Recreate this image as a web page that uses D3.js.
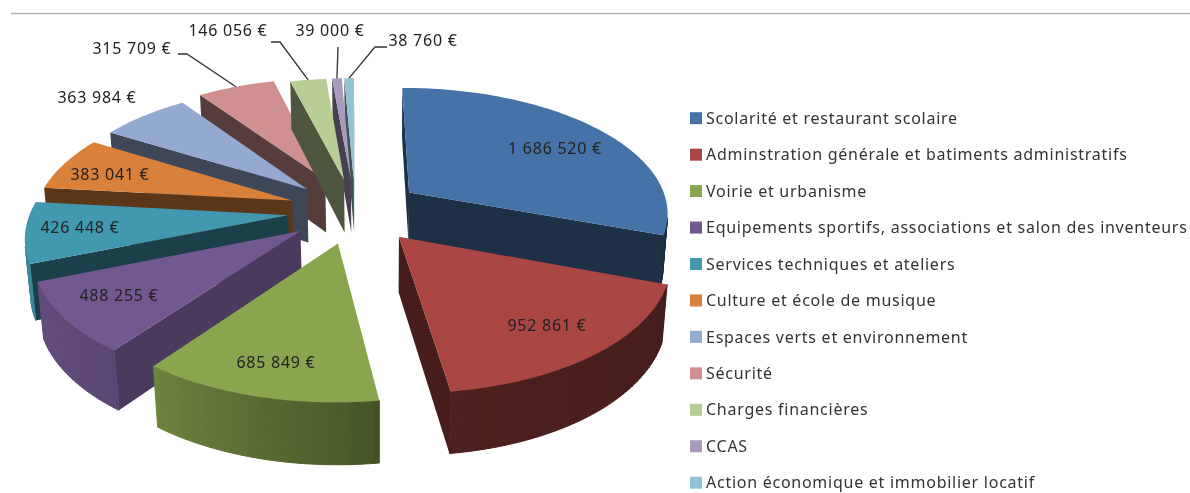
<!DOCTYPE html>
<meta charset="utf-8">
<style>
    html, body { margin: 0; background: #fff; }
    svg { display: block; filter: blur(0.45px); }
    text { font-family: "Noto Sans", sans-serif; font-size: 16px; letter-spacing: 0.74px; fill: #222; }
</style>
<svg width="1190" height="493"></svg>
<script src="https://d3js.org/d3.v7.min.js"></script>
<script>
    var categories = ["Scolarité et restaurant scolaire", "Adminstration générale et batiments administratifs",
        "Voirie et urbanisme", "Equipements sportifs, associations et salon des inventeurs",
        "Services techniques et ateliers", "Culture et école de musique", "Espaces verts et environnement",
        "Sécurité", "Charges financières", "CCAS", "Action économique et immobilier locatif"];
    var values = [1686520, 952861, 685849, 488255, 426448, 383041, 363984, 315709, 146056, 39000, 38760];
    var colors = ["#4572a7", "#aa4643", "#89a54e", "#71588f", "#4198af", "#d9813a", "#93a9cf", "#d09090", "#b9cd96", "#a99bbd", "#92c3d4"];
    var explode = [0.26, 0.26, 0.26, 0.26, 0.26, 0.26, 0.26, 0.285, 0.26, 0.26, 0.26];

    // where the value labels sit, outside ones get an elbow for the leader line
    var labelPos = [[555, 148], [547, 325], [276, 362], [119, 295], [80, 227], [110, 174], [97, 97], [132, 48], [228, 30], [330, 30], [423, 40]];
    var elbows = [null, null, null, null, null, null, null, [178, 54, 187, 54], [271, 42, 280, 42], [338, 47, 338, 47], [387, 47, 375, 47]];

    var svg = d3.select("svg");

    // ground plane -> screen, fitted on the corners of the slices
    var h = [257.638, 52.187, 355.149, -0.806, -93.881, 210.82, -0.0035, 0.14697];
    var depth = 0.0163, vanish = [380, 3590];

    function project(x, y, down) {
        var w = h[6] * x + h[7] * y + 1,
            t = down ? depth : 0;
        return [(h[0] * x + h[1] * y + h[2] + t * vanish[0]) / (w + t),
            (h[3] * x + h[4] * y + h[5] + t * vanish[1]) / (w + t)];
    }

    var slices = d3.pie().sort(null)(values).map(function (d, i) {
        var mid = (d.startAngle + d.endAngle) / 2;
        return {
            i: i, start: d.startAngle, end: d.endAngle, mid: mid,
            ax: explode[i] * Math.sin(mid), ay: explode[i] * Math.cos(mid)
        };
    });

    function outer(s, a, down) {
        return project(s.ax + Math.sin(a), s.ay + Math.cos(a), down);
    }
    function apex(s, down) {
        return project(s.ax, s.ay, down);
    }
    function samples(s) {
        var n = Math.max(2, Math.ceil((s.end - s.start) / 0.02));
        return d3.range(n + 1).map(function (k) { return s.start + (s.end - s.start) * k / n; });
    }

    var line = d3.line();
    var deg = 180 / Math.PI;

    // shading of the sides depends on where they face
    var arcShade = d3.scaleLinear().domain([110, 171, 173, 217, 270]).range([0.4, 0.46, 0.52, 0.8, 0.92]).clamp(true);
    var wallShade = d3.scaleLinear().domain([172, 217, 248]).range([0.42, 0.66, 0.42]).clamp(true);

    function shade(c, f) {
        var r = d3.rgb(c);
        return d3.rgb(r.r * f, r.g * f, r.b * f).formatHex();
    }

    var order = slices.slice().sort(function (a, b) { return d3.descending(a.ay, b.ay); });

    var pie = svg.append("g").selectAll("g").data(order).enter().append("g");

    pie.each(function (s) {
        var g = d3.select(this), c = colors[s.i];

        // the two straight sides, only the one that faces us
        [s.start, s.end].forEach(function (a) {
            var quad = [apex(s), outer(s, a), outer(s, a, true), apex(s, true)];
            var area = d3.polygonArea(quad) * (a === s.start ? 1 : -1);
            if (area <= 0) return;
            g.append("path")
                .attr("d", line(quad) + "Z")
                .attr("fill", shade(c, wallShade(a * deg)));
        });

        // round side, cut in strips for the gradient
        var ang = samples(s);
        d3.pairs(ang).forEach(function (p) {
            var quad = [outer(s, p[0]), outer(s, p[1]), outer(s, p[1], true), outer(s, p[0], true)];
            if (d3.polygonArea(quad) <= 0) return;
            var col = shade(c, arcShade(p[0] * deg));
            g.append("path")
                .attr("d", line(quad) + "Z")
                .attr("fill", col)
                .attr("stroke", col)
                .attr("stroke-width", 1);
        });

        // top
        g.append("path")
            .attr("d", line([apex(s)].concat(ang.map(function (a) { return outer(s, a); }))) + "Z")
            .attr("fill", c);
    });

    // leader lines
    svg.append("g").selectAll("path")
        .data(slices.filter(function (s) { return elbows[s.i]; }))
        .enter().append("path")
        .attr("fill", "none")
        .attr("stroke", "#333")
        .attr("stroke-width", 1.3)
        .attr("d", function (s) {
            var e = elbows[s.i];
            return line([[e[0], e[1]], [e[2], e[3]], outer(s, s.mid)]);
        });

    // value labels
    var fr = function (v) { return d3.format(",")(v).replace(/,/g, " ") + " €"; };
    svg.append("g").selectAll("text")
        .data(values)
        .enter().append("text")
        .attr("x", function (d, i) { return labelPos[i][0]; })
        .attr("y", function (d, i) { return labelPos[i][1]; })
        .attr("dy", "0.35em")
        .attr("text-anchor", "middle")
        .text(fr);

    // legend
    var legend = svg.append("g").selectAll("g")
        .data(categories)
        .enter().append("g")
        .attr("transform", function (d, i) { return "translate(690," + (118.2 + i * 36.45) + ")"; });

    legend.append("rect")
        .attr("y", -6)
        .attr("width", 12)
        .attr("height", 12)
        .attr("fill", function (d, i) { return colors[i]; });

    legend.append("text")
        .attr("x", 16)
        .attr("dy", "0.35em")
        .style("fill", "#333")
        .text(function (d) { return d; });

    // top rule
    svg.append("line")
        .attr("x1", 11).attr("x2", 1190)
        .attr("y1", 13.5).attr("y2", 13.5)
        .attr("stroke", "#b4b4b4")
        .attr("stroke-width", 1.5);
</script>
